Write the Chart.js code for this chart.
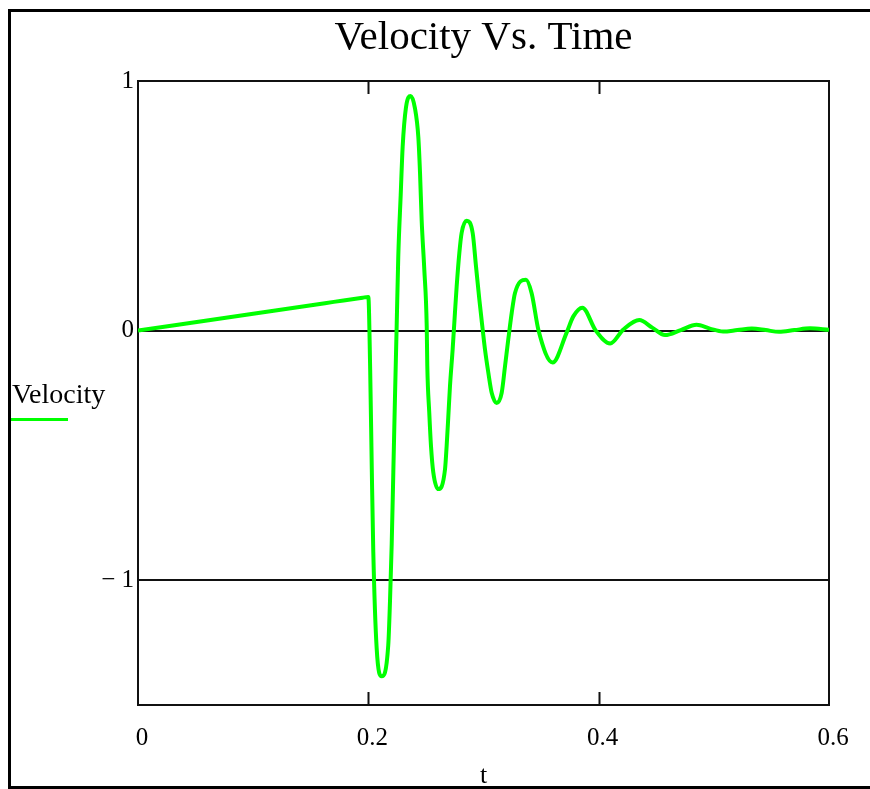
<!DOCTYPE html>
<html lang="en">
<head>
  <meta charset="UTF-8">
  <title>Velocity Vs. Time</title>
  <script src="https://cdn.jsdelivr.net/npm/chart.js"></script>
  <style>
    body { margin: 0; background: #fff; }
    #wrap { position: relative; width: 870px; height: 789px; }
  </style>
</head>
<body>
  <div id="wrap"><canvas id="velocityChart"></canvas></div>

  <script>
    // values
    const tValues = [
      0, 0.1, 0.17, 0.195, 0.2, 0.2016, 0.203, 0.2043, 0.2072, 0.2116,
      0.2173, 0.2188, 0.2203, 0.2217, 0.2231, 0.2246, 0.226, 0.2281, 0.2298, 0.2327,
      0.2368, 0.2405, 0.2434, 0.2449, 0.2463, 0.2486, 0.2507, 0.2512, 0.2529, 0.2544,
      0.2564, 0.2608, 0.2666, 0.268, 0.2694, 0.2709, 0.2732, 0.2752, 0.2767, 0.279,
      0.281, 0.2854, 0.2906, 0.2935, 0.2964, 0.2993, 0.3013, 0.3042, 0.3071, 0.3114,
      0.3158, 0.3187, 0.3215, 0.3245, 0.3273, 0.3369, 0.3418, 0.3478, 0.36, 0.3722,
      0.378, 0.3858, 0.3975, 0.41, 0.4214, 0.4353, 0.4465, 0.4576, 0.4713, 0.485,
      0.4965, 0.508, 0.5205, 0.533, 0.545, 0.5566, 0.57, 0.5835, 0.6
    ];
    const velocity = [
      0, 0.0675, 0.115, 0.132, 0.135, -0.156, -0.555, -0.886, -1.27, -1.385,
      -1.26, -1.086, -0.854, -0.567, -0.275, 0.017, 0.297, 0.543, 0.736, 0.895,
      0.94, 0.89, 0.776, 0.63, 0.443, 0.244, 0.017, -0.142, -0.328, -0.462,
      -0.568, -0.635, -0.555, -0.462, -0.349, -0.222, -0.076, 0.071, 0.177, 0.31,
      0.391, 0.44, 0.391, 0.257, 0.124, 0.004, -0.076, -0.169, -0.249, -0.29,
      -0.249, -0.142, -0.036, 0.071, 0.15, 0.204, 0.15, 0.0, -0.128, -0.008,
      0.057, 0.092, 0.0, -0.052, 0.004, 0.042, 0.012, -0.018, 0.002, 0.023,
      0.008, -0.004, 0.002, 0.008, 0.002, -0.005, 0.002, 0.009, 0.003
    ];
    const xTickValues = [0, 0.2, 0.4, 0.6];
    const yTickValues = [-1, 0, 1];
    const seriesName = 'Velocity';
    const chartTitle = 'Velocity Vs. Time';
    const xAxisName = 't';

    const serif = '"Liberation Serif", "Times New Roman", serif';

    // white page + outer frame (open on the right like the screenshot)
    const framePlugin = {
      id: 'frame',
      beforeDraw(chart) {
        const ctx = chart.ctx;
        ctx.save();
        ctx.fillStyle = '#fff';
        ctx.fillRect(0, 0, chart.width, chart.height);
        ctx.strokeStyle = '#000';
        ctx.lineWidth = 3;
        ctx.beginPath();
        ctx.moveTo(chart.width, 10.5);
        ctx.lineTo(9.5, 10.5);
        ctx.lineTo(9.5, 787.5);
        ctx.lineTo(chart.width, 787.5);
        ctx.stroke();
        ctx.restore();
      },
      beforeDatasetsDraw(chart) {
        const { ctx, chartArea: a } = chart;
        const xs = chart.scales.x;
        ctx.save();
        ctx.strokeStyle = '#111';
        ctx.lineWidth = 2;
        ctx.strokeRect(a.left, a.top, a.right - a.left, a.bottom - a.top);
        // inward tick marks top and bottom
        xTickValues.forEach(v => {
          const px = Math.round(xs.getPixelForValue(v)) + 0.5;
          if (px <= a.left + 1 || px >= a.right - 1) return;
          ctx.beginPath();
          ctx.moveTo(px, a.top);
          ctx.lineTo(px, a.top + 13);
          ctx.moveTo(px, a.bottom);
          ctx.lineTo(px, a.bottom - 13);
          ctx.stroke();
        });
        ctx.restore();
      },
      afterDraw(chart) {
        // series label on the left, Mathcad style
        const ctx = chart.ctx;
        const ds = chart.data.datasets[0];
        ctx.save();
        ctx.fillStyle = '#000';
        ctx.font = '28px ' + serif;
        ctx.textBaseline = 'alphabetic';
        ctx.fillText(ds.label, 12, 403);
        ctx.strokeStyle = ds.borderColor;
        ctx.lineWidth = 3;
        ctx.beginPath();
        ctx.moveTo(11, 419.5);
        ctx.lineTo(68, 419.5);
        ctx.stroke();
        ctx.restore();
      }
    };

    const ctx = document.getElementById('velocityChart').getContext('2d');
    const chart = new Chart(ctx, {
      type: 'line',
      data: {
        datasets: [{
          label: seriesName,
          data: tValues.map((t, i) => ({ x: t, y: velocity[i] })),
          borderColor: '#00ff00',
          borderWidth: 4,
          pointRadius: 0,
          fill: false,
          cubicInterpolationMode: 'monotone'
        }]
      },
      options: {
        responsive: true,
        maintainAspectRatio: false,
        animation: false,
        layout: { padding: { left: 0, right: 41, top: 0, bottom: 0 } },
        plugins: {
          legend: { display: false },
          tooltip: { enabled: false },
          title: {
            display: true,
            fullSize: false,
            text: chartTitle,
            color: '#000',
            font: { family: serif, size: 41, weight: 'normal', lineHeight: 1.2 },
            padding: { top: 13.4, bottom: 18.4 }
          }
        },
        scales: {
          x: {
            type: 'linear',
            min: 0,
            max: 0.6,
            afterBuildTicks: s => { s.ticks = xTickValues.map(v => ({ value: v })); },
            afterFit: s => { s.height = 84; },
            grid: { display: false },
            border: { display: false },
            ticks: {
              color: '#000',
              font: { family: serif, size: 25 },
              padding: 10,
              labelOffset: 4,
              maxRotation: 0,
              autoSkip: false,
              callback: v => String(v)
            },
            title: {
              display: true,
              text: xAxisName,
              color: '#000',
              font: { family: serif, size: 26, lineHeight: 1 },
              padding: { top: 0, bottom: 0 }
            }
          },
          y: {
            min: -1.5,
            max: 1,
            afterBuildTicks: s => { s.ticks = yTickValues.map(v => ({ value: v })); },
            afterFit: s => { s.width = 138; },
            border: { display: false },
            grid: {
              drawTicks: false,
              lineWidth: 2,
              color: c => (c.tick && c.tick.value === 1) ? 'rgba(0,0,0,0)' : '#111'
            },
            ticks: {
              color: '#000',
              font: { family: serif, size: 25 },
              padding: 4,
              callback: v => v < 0 ? '\u2212 ' + Math.abs(v) : String(v)
            }
          }
        }
      },
      plugins: [framePlugin]
    });
  </script>
</body>
</html>
